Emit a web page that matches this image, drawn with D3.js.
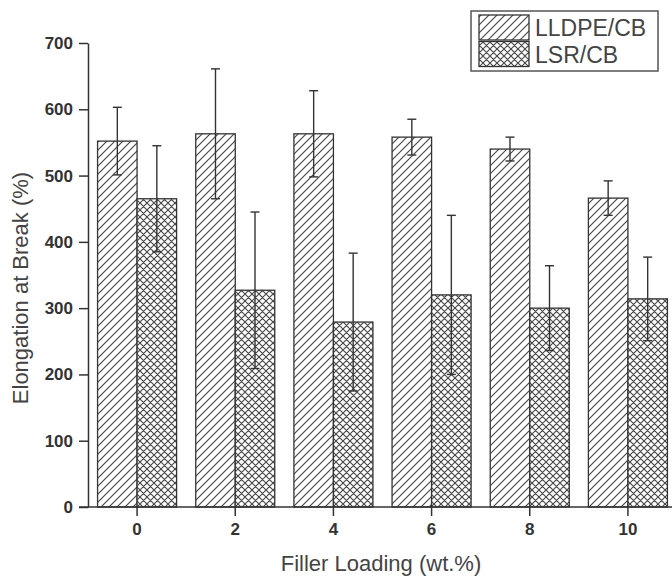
<!DOCTYPE html>
<html><head><meta charset="utf-8">
<script src="https://cdn.jsdelivr.net/npm/d3@7"></script>
<style>body{margin:0;background:#fff}svg{display:block}</style>
</head><body>
<svg id="c" width="672" height="576"></svg>
<script>
const categories = ["0","2","4","6","8","10"];
const seriesNames = ["LLDPE/CB","LSR/CB"];
const lldpe = [552, 563, 563, 558, 540, 466];
const lldpeErr = [51, 98, 65, 27, 18, 26];
const lsr = [465, 327, 279, 320, 300, 314];
const lsrErr = [80, 118, 104, 120, 64, 63];
const yTicks = [0,100,200,300,400,500,600,700];

const svg = d3.select("#c");
const ink = "#333";
const defs = svg.append("defs");
const p1 = defs.append("pattern").attr("id","hatch").attr("patternUnits","userSpaceOnUse")
  .attr("width",8).attr("height",8);
p1.append("rect").attr("width",8).attr("height",8).attr("fill","#fff");
p1.append("path").attr("d","M-2,2 l4,-4 M0,8 l8,-8 M6,10 l4,-4").attr("stroke","#444").attr("stroke-width",1.1);
const p2 = defs.append("pattern").attr("id","cross").attr("patternUnits","userSpaceOnUse")
  .attr("width",7).attr("height",7);
p2.append("rect").attr("width",7).attr("height",7).attr("fill","#fff");
p2.append("path").attr("d","M-1.75,1.75 l3.5,-3.5 M0,7 l7,-7 M5.25,8.75 l3.5,-3.5 M-1.75,5.25 l3.5,3.5 M0,0 l7,7 M5.25,-1.75 l3.5,3.5")
  .attr("stroke","#444").attr("stroke-width",1.1);
const fills = ["url(#hatch)","url(#cross)"];

const x0 = 88, yBot = 507, yTop = 43;
const x = d3.scaleBand().domain(categories).range([x0, 677]).paddingInner(0.195).paddingOuter(0.0975);
const xs = d3.scaleBand().domain(seriesNames).range([0, x.bandwidth()]);
const y = d3.scaleLinear().domain([0,700]).range([yBot, yTop]);

const data = [];
categories.forEach((c,i)=>{
  data.push({c, s:seriesNames[0], v:lldpe[i], e:lldpeErr[i], k:0});
  data.push({c, s:seriesNames[1], v:lsr[i], e:lsrErr[i], k:1});
});

const g = svg.append("g");
g.selectAll("rect.bar").data(data).join("rect").attr("class","bar")
  .attr("x", d=>x(d.c)+xs(d.s)).attr("width", xs.bandwidth())
  .attr("y", d=>y(d.v)).attr("height", d=>y(0)-y(d.v))
  .attr("fill", d=>fills[d.k]).attr("stroke", ink).attr("stroke-width",1.3);

// error bars
const eb = g.selectAll("g.err").data(data).join("g").attr("class","err")
  .attr("transform", d=>`translate(${x(d.c)+xs(d.s)+xs.bandwidth()/2},0)`)
  .attr("stroke", ink).attr("stroke-width",1.4);
eb.append("line").attr("y1", d=>y(d.v+d.e)).attr("y2", d=>y(d.v-d.e));
eb.append("line").attr("x1",-4.5).attr("x2",4.5).attr("y1", d=>y(d.v+d.e)).attr("y2", d=>y(d.v+d.e));
eb.append("line").attr("x1",-4.5).attr("x2",4.5).attr("y1", d=>y(d.v-d.e)).attr("y2", d=>y(d.v-d.e));

// y axis
const ya = svg.append("g").attr("transform",`translate(${x0},0)`)
  .call(d3.axisLeft(y).tickValues(yTicks).tickSize(9).tickPadding(6).tickSizeOuter(0));
ya.select(".domain").attr("stroke",ink).attr("stroke-width",1.5);
ya.selectAll(".tick line").attr("stroke",ink).attr("stroke-width",1.5);
ya.selectAll(".tick text").attr("font-family","Liberation Sans, Arial, sans-serif")
  .attr("font-size",17).attr("font-weight","bold").attr("fill","#333");

// x axis
const xa = svg.append("g").attr("transform",`translate(0,${yBot})`)
  .call(d3.axisBottom(x).tickSize(9).tickPadding(7).tickSizeOuter(0));
xa.select(".domain").attr("d", `M${x0-9},0H672`).attr("stroke",ink).attr("stroke-width",1.5);
xa.selectAll(".tick line").attr("stroke",ink).attr("stroke-width",1.5);
xa.selectAll(".tick text").attr("font-family","Liberation Sans, Arial, sans-serif")
  .attr("font-size",17).attr("font-weight","bold").attr("fill","#333");

// axis titles
svg.append("text").attr("x",381).attr("y",571).attr("text-anchor","middle")
  .attr("font-family","Liberation Sans, Arial, sans-serif").attr("font-size",22).attr("fill","#444")
  .text("Filler Loading (wt.%)");
svg.append("text").attr("transform","translate(28,288) rotate(-90)").attr("text-anchor","middle")
  .attr("font-family","Liberation Sans, Arial, sans-serif").attr("font-size",22).attr("fill","#444")
  .text("Elongation at Break (%)");

// legend
const lg = svg.append("g");
lg.append("rect").attr("x",471).attr("y",11).attr("width",187).attr("height",60)
  .attr("fill","#fff").attr("stroke","#555").attr("stroke-width",1.5);
seriesNames.forEach((s,i)=>{
  lg.append("rect").attr("x",479).attr("y",15+i*26.5).attr("width",50).attr("height",25)
    .attr("fill",fills[i]).attr("stroke",ink).attr("stroke-width",1.3);
  lg.append("text").attr("x",535).attr("y",36+i*27)
    .attr("font-family","Liberation Sans, Arial, sans-serif").attr("font-size",23).attr("fill","#444")
    .text(s);
});
</script>
</body></html>
